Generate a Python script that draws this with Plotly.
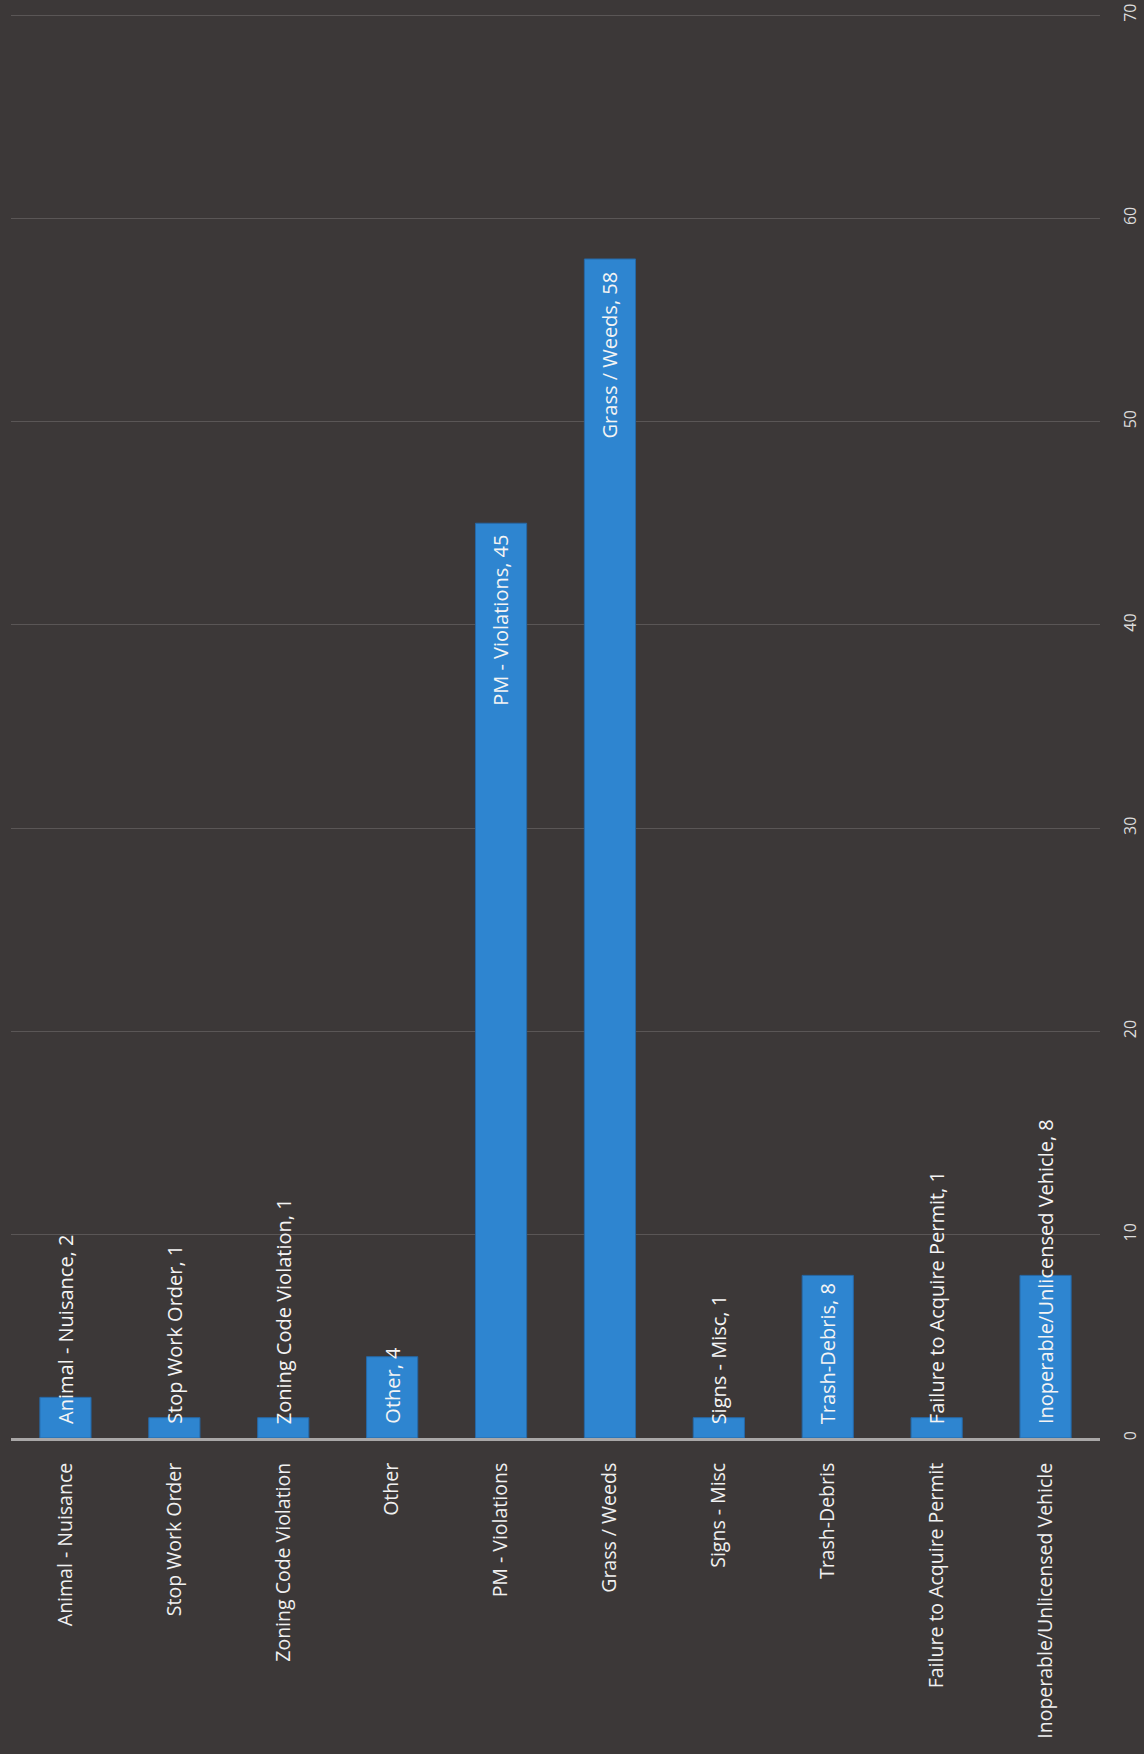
import plotly.graph_objects as go

categories = [
    "Animal - Nuisance",
    "Stop Work Order",
    "Zoning Code Violation",
    "Other",
    "PM - Violations",
    "Grass / Weeds",
    "Signs - Misc",
    "Trash-Debris",
    "Failure to Acquire Permit",
    "Inoperable/Unlicensed Vehicle",
]
values = [2, 1, 1, 4, 45, 58, 1, 8, 1, 8]
value_ticks = [0, 10, 20, 30, 40, 50, 60, 70]

W, H = 1144, 1754
M_L, M_R, M_T, M_B = 11, 44, 13, 316
Y_TOP = 70.1
plot_h = H - M_T - M_B
px_per_unit = plot_h / Y_TOP

BG = "#3c3838"
BAR = "#2e85d0"
FONT = "Open Sans"
CAT_SIZE = 19.5
DATA_SIZE = 20

fig = go.Figure()
fig.add_trace(go.Bar(
    x=categories,
    y=values,
    marker=dict(color=BAR, line=dict(color="#2668a6", width=1)),
    width=0.47,
    hoverinfo="x+y",
))

annotations = []
for cat, val in zip(categories, values):
    label = f"{cat}, {val}"
    text_len = len(label) * 10.5 + 22
    bar_len = val * px_per_unit
    if text_len < bar_len:
        annotations.append(dict(
            x=cat, y=val, xref="x", yref="y", text=label, textangle=-90,
            showarrow=False, yanchor="top", xanchor="center", yshift=-10,
            font=dict(family=FONT, size=DATA_SIZE, color="#f4f4f4"),
        ))
    else:
        annotations.append(dict(
            x=cat, y=0, xref="x", yref="y", text=label, textangle=-90,
            showarrow=False, yanchor="bottom", xanchor="center", yshift=12,
            font=dict(family=FONT, size=DATA_SIZE, color="#f4f4f4"),
        ))

fig.update_layout(
    width=W, height=H,
    margin=dict(l=M_L, r=M_R, t=M_T, b=M_B),
    paper_bgcolor=BG,
    plot_bgcolor=BG,
    showlegend=False,
    annotations=annotations,
    font=dict(family=FONT, color="#eeeeee"),
    xaxis=dict(
        automargin=False,
        tickangle=-90,
        tickfont=dict(family=FONT, size=CAT_SIZE, color="#f0f0f0"),
        showline=True, linecolor="#a9a7a7", linewidth=3,
        showgrid=False, ticks="outside", ticklen=14, tickcolor="rgba(0,0,0,0)",
        fixedrange=True,
    ),
    yaxis=dict(
        automargin=False,
        side="right",
        range=[0, Y_TOP],
        tickvals=value_ticks,
        tickangle=-90,
        tickfont=dict(family=FONT, size=16, color="#dcdcdc"),
        showgrid=True, gridcolor="rgba(200,195,195,0.22)", gridwidth=1,
        zeroline=False, showline=False,
        ticks="outside", ticklen=16, tickcolor="rgba(0,0,0,0)",
        fixedrange=True,
    ),
)

fig.write_html("out.html")
